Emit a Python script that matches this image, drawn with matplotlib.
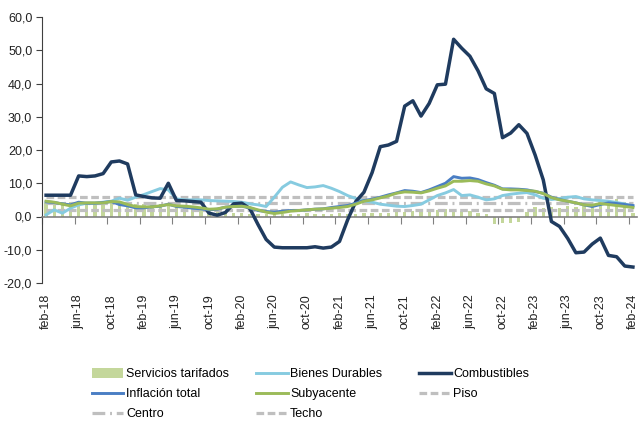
import numpy as np
import matplotlib
matplotlib.use('Agg')
import matplotlib.pyplot as plt

plt.rcParams['font.family'] = ['Liberation Sans', 'DejaVu Sans']
plt.rcParams['font.size'] = 9

# monthly series feb-18 .. feb-24
meses = ['ene', 'feb', 'mar', 'abr', 'may', 'jun', 'jul', 'ago', 'sep', 'oct', 'nov', 'dic']
fechas = [f"{meses[(1 + k) % 12]}-{18 + (1 + k) // 12}" for k in range(73)]

servicios_tarifados = [4.2, 4.5, 4.3, 4.4, 4.6, 4.2, 4.4, 4.0, 4.5, 4.3, 4.1, 3.9,
                       3.8, 3.6, 3.9, 3.5, 3.2, 3.4, 3.0, 2.8, 2.6, 2.2, 1.6, 1.2,
                       1.0, 0.9, 0.8, 0.9, 0.8, 0.7, 0.9, 0.8, 1.0, 0.9, 0.8, 0.9,
                       1.0, 0.8, 0.9, 1.0, 1.1, 1.0, 1.2, 1.3, 1.5, 1.6, 1.8,
                       2.0, 1.9, 2.2, 2.0, 1.8, 1.6, 1.2, 0.8,
                       -2.4, -2.0, -2.0, -1.8,
                       1.5, 2.8, 2.6, 3.0, 2.5, 3.2, 3.0, 3.5, 3.8, 4.2, 4.0, 5.4, 4.5, 1.0]

bienes_durables = [0.5, 2.0, 1.0, 2.5, 3.5, 4.0, 4.0, 4.3, 4.6, 5.5, 4.9, 5.8,
                   6.6, 7.5, 8.4, 8.0, 5.3, 5.0, 5.0, 5.0, 4.8, 4.7, 4.6, 4.5,
                   4.3, 3.8, 3.5, 3.0, 5.8, 8.8, 10.4, 9.5, 8.7, 8.9, 9.3, 8.5,
                   7.5, 6.3, 5.4, 4.7, 4.3, 3.7, 3.4, 3.1, 3.0, 3.3, 3.7, 5.0,
                   6.3, 7.1, 8.1, 6.3, 6.5, 5.8, 5.0, 5.3, 6.3, 6.7, 7.0, 7.2,
                   6.5, 5.5, 5.1, 5.4, 5.8, 6.0, 5.3, 5.0, 4.8, 4.6, 4.2, 3.8, 3.0]

combustibles = [6.4, 6.4, 6.4, 6.4, 12.2, 12.0, 12.2, 12.9, 16.4, 16.7, 15.8, 6.5,
                6.0, 5.6, 5.5, 10.0, 4.8, 4.7, 4.5, 4.3, 1.0, 0.4, 1.2, 3.8,
                4.0, 2.4, -2.4, -6.9, -9.2, -9.4, -9.4, -9.4, -9.4, -9.1, -9.5, -9.2,
                -7.5, -1.0, 4.5, 7.3, 13.2, 21.0, 21.5, 22.6, 33.2, 34.8, 30.2, 34.0,
                39.6, 39.8, 53.3, 50.6, 48.2, 43.8, 38.4, 37.0, 23.7, 25.1, 27.6, 25.0,
                18.5, 11.0, -1.5, -3.0, -6.6, -10.9, -10.7, -8.3, -6.5, -11.7, -12.1, -14.9, -15.2]

inflacion_total = [4.4, 4.2, 3.8, 3.5, 4.3, 4.0, 4.0, 4.2, 4.5, 3.6, 3.2, 2.6,
                   2.6, 2.9, 3.1, 3.7, 3.0, 2.8, 2.5, 2.3, 2.0, 2.2, 2.8, 3.0,
                   3.1, 2.6, 1.8, 1.5, 1.3, 1.6, 1.8, 1.8, 2.0, 2.2, 2.3, 2.7,
                   3.0, 3.3, 4.0, 4.8, 5.2, 5.8, 6.5, 7.1, 7.8, 7.6, 7.2, 8.0,
                   9.0, 10.0, 12.0, 11.5, 11.6, 11.1, 10.2, 9.4, 8.3, 8.3, 8.2, 8.0,
                   7.5, 7.0, 5.8, 5.1, 4.6, 4.1, 3.5, 3.0, 3.6, 4.1, 3.9, 3.6, 3.3]

subyacente = [4.6, 4.3, 3.7, 3.2, 4.0, 4.1, 4.1, 4.1, 4.5, 4.4, 3.6, 3.0,
              2.9, 2.9, 3.2, 3.6, 3.2, 3.1, 2.9, 2.6, 2.2, 2.3, 2.8, 3.0,
              3.1, 2.7, 2.0, 1.3, 0.9, 1.2, 1.6, 1.8, 2.0, 2.2, 2.3, 2.5,
              2.7, 3.0, 3.7, 4.6, 5.0, 5.6, 6.2, 7.0, 7.4, 7.3, 7.1, 7.7,
              8.5, 9.2, 10.6, 10.6, 10.8, 10.6, 9.8, 9.2, 8.2, 8.0, 8.0, 7.8,
              7.6, 6.9, 5.7, 5.0, 4.6, 4.1, 3.5, 3.4, 3.9, 3.6, 3.3, 3.0, 2.7]

piso, centro, techo = 2.0, 4.0, 6.0

x = np.arange(len(fechas))
gris = '#BFBFBF'

fig = plt.figure(figsize=(6.42, 4.21), dpi=100)
ax = fig.add_axes([42 / 642, 1 - 283 / 421, 595 / 642, 266 / 421])

h_serv = ax.bar(x, servicios_tarifados, width=0.4, color='#C4D79B', zorder=1)
h_piso, = ax.plot(x, np.full(len(x), piso), color=gris, lw=2.3, dashes=(2.4, 1.1), zorder=2)
h_centro, = ax.plot(x, np.full(len(x), centro), color=gris, lw=2.3, dashes=(4, 1.5, 0.6, 1.5), zorder=2)
h_techo, = ax.plot(x, np.full(len(x), techo), color=gris, lw=2.3, dashes=(2.4, 1.1), zorder=2)
h_bienes, = ax.plot(x, bienes_durables, color='#86CBE0', lw=2.1, zorder=3)
h_comb, = ax.plot(x, combustibles, color='#1F3B5F', lw=2.5, zorder=4)
h_inf, = ax.plot(x, inflacion_total, color='#4A7EC4', lw=2.1, zorder=5)
h_sub, = ax.plot(x, subyacente, color='#9BBB59', lw=2.1, zorder=6)

ax.set_xlim(-0.5, len(x) - 0.5)
ax.set_ylim(-20, 60)
ax.set_yticks(np.arange(-20, 61, 10))
ax.set_yticklabels([f"{v:.1f}".replace('.', ',') for v in np.arange(-20, 61, 10)])
ax.tick_params(axis='y', length=4, color='#404040', labelcolor='#222222', pad=3)

# x axis line at zero with tick marks, labels at the bottom
for s in ['top', 'right']:
    ax.spines[s].set_visible(False)
ax.spines['left'].set_color('#404040')
ax.spines['bottom'].set_position(('data', 0))
ax.spines['bottom'].set_color('#808080')
ax.spines['bottom'].set_linewidth(1.2)
ax.set_xticks(np.arange(-0.5, len(x), 4))
ax.tick_params(axis='x', length=5, color='#808080', labelbottom=False)

sec = ax.secondary_xaxis(0)
sec.set_xticks(x[::4])
sec.set_xticklabels(fechas[::4], rotation=90, color='#222222')
sec.tick_params(length=0, pad=8)
sec.spines['bottom'].set_visible(False)

# legend: three columns placed like the original
ley = dict(frameon=False, loc='upper left', borderpad=0, handlelength=2.5,
           handletextpad=0.2, labelspacing=0.62, handleheight=0.8, fontsize=9)
fig.legend([h_serv, h_inf, h_centro], ['Servicios tarifados', 'Inflación total', 'Centro'],
           bbox_to_anchor=(86 / 642, 1 - 362 / 421), **ley)
fig.legend([h_bienes, h_sub, h_techo], ['Bienes Durables', 'Subyacente', 'Techo'],
           bbox_to_anchor=(250 / 642, 1 - 362 / 421), **ley)
fig.legend([h_comb, h_piso], ['Combustibles', 'Piso'],
           bbox_to_anchor=(413 / 642, 1 - 362 / 421), **ley)

fig.savefig('out.png', dpi=100)
